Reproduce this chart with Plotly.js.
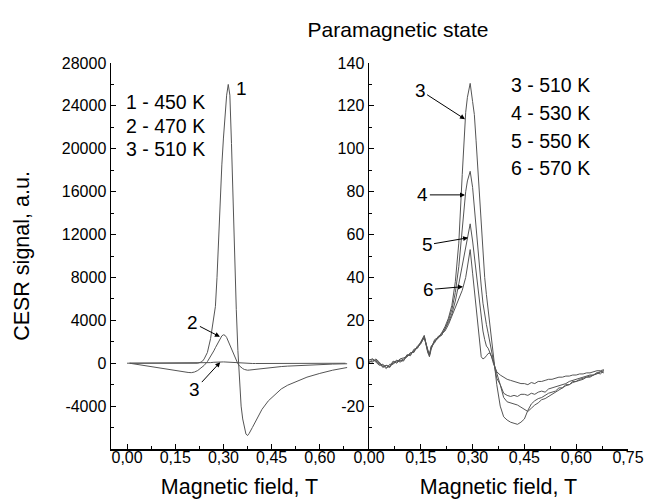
<!DOCTYPE html>
<html><head><meta charset="utf-8">
<script src="https://cdn.plot.ly/plotly-3.0.1.min.js"></script>
<style>html,body{margin:0;padding:0;background:#fff}#chart{width:648px;height:502px}</style>
</head><body><div id="chart"></div>
<script>
// ---- Left panel (smooth curves 1 and 2) ----
const fieldL = [0.008,0.02,0.04,0.06,0.08,0.10,0.12,0.14,0.16,0.18,
  0.19,0.20,0.21,0.22,0.23,0.235,0.24,0.25,0.26,0.27,
  0.275,0.28,0.285,0.29,0.295,0.30,0.305,0.31,0.315,0.32,
  0.325,0.33,0.335,0.34,0.345,0.35,0.355,0.36,0.365,0.37,
  0.375,0.38,0.39,0.40,0.41,0.42,0.44,0.46,0.48,0.50,
  0.53,0.56,0.60,0.64,0.685];
const cesr450 = [0,0,-10,-20,-30,-30,-40,-40,-50,-50,
  -50,-40,-30,0,100,200,400,1000,2300,4300,
  5300,8000,11700,15500,18500,21000,23500,25000,26000,25000,
  20500,15000,10000,5000,1200,-1800,-4000,-5200,-6000,-6600,
  -6750,-6550,-6000,-5400,-4800,-4300,-3500,-2900,-2400,-2050,
  -1650,-1300,-950,-650,-400];
const cesr470 = [0,-60,-150,-250,-340,-420,-520,-600,-720,-820,
  -860,-880,-820,-680,-480,-350,-200,150,600,1150,
  1450,1750,2050,2350,2550,2650,2600,2400,2050,1650,
  1250,850,500,200,-50,-250,-400,-500,-580,-630,
  -650,-640,-600,-560,-520,-480,-420,-360,-310,-270,
  -220,-170,-120,-80,-50];

// ---- Right panel (noisy curves 3-6) ----
const fieldR = [0.00,0.01,0.02,0.03,0.04,0.05,0.06,0.07,0.08,0.09,
  0.10,0.11,0.12,0.13,0.14,0.15,0.16,0.17,0.175,0.18,
  0.19,0.20,0.21,0.22,0.23,0.24,0.25,0.26,0.27,0.28,
  0.285,0.293,0.30,0.305,0.31,0.315,0.32,0.325,0.33,0.335,
  0.34,0.345,0.35,0.355,0.36,0.365,0.37,0.38,0.39,0.40,
  0.41,0.42,0.43,0.44,0.45,0.46,0.47,0.48,0.49,0.50,
  0.51,0.52,0.53,0.54,0.55,0.56,0.57,0.58,0.59,0.60,
  0.61,0.62,0.63,0.64,0.65,0.66,0.67,0.68];
const cesr510 = [1.5,2,0.5,-1,-0.5,-2,-1.5,0,0.5,2,
  2.5,3,4.5,5.5,7.5,9,12.5,5,3.5,7.5,
  10.5,11.5,14,17,21,27,38,56,88,117,
  124,130.5,122,116,104,90,78,65,52,40,
  32,25,19,13,5,-3,-10,-20,-25,-26.5,
  -27.5,-28,-28.5,-27.5,-26,-22,-19,-17.5,-16.5,-16,
  -15,-14,-13.5,-13,-11.5,-11.5,-10,-10,-8.5,-8.5,
  -7.5,-7,-6.5,-6,-5.5,-4.5,-5,-3.5];
const cesr530 = [0.5,1,1.5,-0.5,-1.5,-1,-2,0.5,1,1,
  2,3.5,4,6,7,9.5,12,6,4,7,
  10,12,13,16,20,25,33,45,63,80,
  85,89.5,82,72,63,54,44,36,28,22,
  18,14,10,6,2,-3,-7,-10,-16,-18,
  -18.5,-19,-19.5,-20.5,-21.5,-22.5,-21,-19.5,-18.5,-17,
  -16.5,-15.5,-14.5,-13.5,-12.5,-11.5,-10.5,-10,-9,-8.5,
  -8,-7.5,-6.5,-6.5,-5.5,-5,-4,-4.5];
const cesr550 = [0,2,1,0,-1,-2.5,-0.5,-0.5,1.5,0.5,
  1.5,3,5,5,8,9.5,12,6.5,4,8,
  9.5,12.5,13,16,19,23,29,37,46,55,
  59,65,57,50,43,36,28,20,15,11,
  8,7,5,3,1,-2,-5,-10,-14,-15,
  -15.5,-15,-15.5,-14.5,-14.5,-15,-14,-14.5,-13.5,-13,
  -13.5,-12,-11.5,-11,-10.5,-10,-9.5,-8.5,-8,-7.5,
  -7,-6.5,-6,-5.5,-5.5,-4.5,-4,-3.5];
const cesr570 = [1,0.5,2,0.5,-2,-1,-1.5,1,0,1.5,
  1,4,3.5,6.5,7,10,13,5.5,3,6.5,
  11,12,14,15,18,22,26,30,34,40,
  45,53,42,34,25,18,10,3,2,2.5,
  3.5,4.5,4.8,3,0,-2,-4,-5.5,-6.5,-7.5,
  -8,-8.5,-9,-9.5,-9.5,-10,-9,-9.5,-8.5,-8.5,
  -8,-7.5,-7.5,-7,-6.5,-6.5,-6,-6,-5.5,-5.5,
  -5,-5,-4.5,-4.5,-4,-3.5,-3.5,-3];

// ---- Ticks and labels ----
const xTickVals = [0,0.15,0.30,0.45,0.60,0.75];
const xTickText = ["0,00","0,15","0,30","0,45","0,60","0,75"];
const xMinorVals = [0.075,0.225,0.375,0.525,0.675];
const yLeftTickVals = [-4000,0,4000,8000,12000,16000,20000,24000,28000];
const yLeftTickText = ["-4000","0","4000","8000","12000","16000","20000","24000","28000"];
const yLeftMinor = [-6000,-2000,2000,6000,10000,14000,18000,22000,26000];
const yRightTickVals = [-20,0,20,40,60,80,100,120,140];
const yRightTickText = ["-20","0","20","40","60","80","100","120","140"];
const yRightMinor = [-30,-10,10,30,50,70,90,110,130];
const legendLeft = ["1 - 450 K","2 - 470 K","3 - 510 K"];
const legendRight = ["3 - 510 K","4 - 530 K","5 - 550 K","6 - 570 K"];
const curveLabels = ["1","2","3","3","4","5","6"];

const FONT = 'Arial, "Liberation Sans", sans-serif';
const LC = '#555';
const line = {color: LC, width: 1};

const traces = [
  {x: fieldL, y: cesr450, xaxis:'x', yaxis:'y', mode:'lines', line, name:'450 K'},
  {x: fieldL, y: cesr470, xaxis:'x', yaxis:'y', mode:'lines', line, name:'470 K'},
  {x: fieldR, y: cesr510, xaxis:'x', yaxis:'y', mode:'lines', line, name:'510 K'},
  {x: fieldR, y: cesr510, xaxis:'x2', yaxis:'y2', mode:'lines', line, name:'510 K'},
  {x: fieldR, y: cesr530, xaxis:'x2', yaxis:'y2', mode:'lines', line, name:'530 K'},
  {x: fieldR, y: cesr550, xaxis:'x2', yaxis:'y2', mode:'lines', line, name:'550 K'},
  {x: fieldR, y: cesr570, xaxis:'x2', yaxis:'y2', mode:'lines', line, name:'570 K'}
];

const tickFont = {family: FONT, size: 16, color: '#000'};
const titleFont = {family: FONT, size: 21.5, color: '#000'};
const yDom = [1 - 449/502, 1 - 63/502];

function xAxis(dom, range, vals, texts) {
  return {domain: dom, range, tickmode:'array', tickvals: vals, ticktext: texts,
    ticks:'inside', ticklen:5, tickwidth:1, tickcolor:'#000', ticklabelstandoff: -7,
    minor:{tickvals: xMinorVals, ticks:'inside', ticklen:3, tickwidth:1, tickcolor:'#000'},
    showline:true, linewidth:1.5, linecolor:'#000', showgrid:false, zeroline:false,
    tickfont: tickFont,
    title:{text:'Magnetic field, T', font: titleFont, standoff: 14}};
}
function yAxis(range, vals, texts, minor) {
  return {domain: yDom, range, tickmode:'array', tickvals: vals, ticktext: texts,
    ticks:'inside', ticklen:5, tickwidth:1, tickcolor:'#000',
    minor:{tickvals: minor, ticks:'inside', ticklen:3, tickwidth:1, tickcolor:'#000'},
    showline:true, linewidth:1.5, linecolor:'#000', showgrid:false, zeroline:false,
    tickfont: tickFont};
}

const xa = xAxis([111/648, 368/648], [-0.05, 0.75], xTickVals.slice(0,5), xTickText.slice(0,5));
xa.anchor = 'y';
const xa2 = xAxis([369/648, 628/648], [0, 0.75], xTickVals, xTickText);
xa2.anchor = 'y2';
const ya = yAxis([-8000, 28000], yLeftTickVals, yLeftTickText, yLeftMinor);
ya.anchor = 'x';
ya.title = {text:'CESR signal, a.u.', font: titleFont, standoff: 26};
const ya2 = yAxis([-40, 140], yRightTickVals, yRightTickText, yRightMinor);
ya2.anchor = 'x2';

const numFont = {family: FONT, size: 19, color: '#000'};
const arrowBase = {showarrow:true, arrowhead:2, arrowsize:1, arrowwidth:1, arrowcolor:'#000', standoff:0, font: numFont};
const annotations = [
  {text: curveLabels[0], x:0.355, y:25600, xref:'x', yref:'y', showarrow:false, font:numFont},
  Object.assign({text: curveLabels[1], x:0.289, y:2470, ax:0.205, ay:3770, xref:'x', yref:'y', axref:'x', ayref:'y'}, arrowBase),
  Object.assign({text: curveLabels[2], x:0.29, y:100, ax:0.211, ay:-2470, xref:'x', yref:'y', axref:'x', ayref:'y'}, arrowBase),
  Object.assign({text: curveLabels[3], x:0.278, y:113.8, ax:0.148, ay:127.3, xref:'x2', yref:'y2', axref:'x2', ayref:'y2'}, arrowBase),
  Object.assign({text: curveLabels[4], x:0.278, y:78.5, ax:0.156, ay:78.5, xref:'x2', yref:'y2', axref:'x2', ayref:'y2'}, arrowBase),
  Object.assign({text: curveLabels[5], x:0.287, y:58.5, ax:0.168, ay:55.2, xref:'x2', yref:'y2', axref:'x2', ayref:'y2'}, arrowBase),
  Object.assign({text: curveLabels[6], x:0.272, y:35.7, ax:0.171, ay:34.3, xref:'x2', yref:'y2', axref:'x2', ayref:'y2'}, arrowBase)
];
const legFont = {family: FONT, size: 19.5, color: '#000'};
const leftY = [101.7, 126, 149.3];
legendLeft.forEach((t,i) => annotations.push({text:t, xref:'paper', yref:'paper', x:124/648, y:1-leftY[i]/502, xanchor:'left', yanchor:'middle', showarrow:false, font:legFont}));
const rightY = [85, 112.7, 140.7, 168.3];
legendRight.forEach((t,i) => annotations.push({text:t, xref:'paper', yref:'paper', x:509/648, y:1-rightY[i]/502, xanchor:'left', yanchor:'middle', showarrow:false, font:legFont}));

const layout = {
  width:648, height:502, margin:{l:0,r:0,t:0,b:0},
  paper_bgcolor:'#fff', plot_bgcolor:'#fff', showlegend:false,
  title:{text:'Paramagnetic state', x:398/648, xanchor:'center', xref:'paper', y:1-30/502, yanchor:'middle', yref:'paper', font:{family: FONT, size: 21, color:'#000'}},
  xaxis: xa, yaxis: ya, xaxis2: xa2, yaxis2: ya2,
  annotations
};
Plotly.newPlot('chart', traces, layout, {staticPlot:true, displayModeBar:false});
</script>
</body></html>
